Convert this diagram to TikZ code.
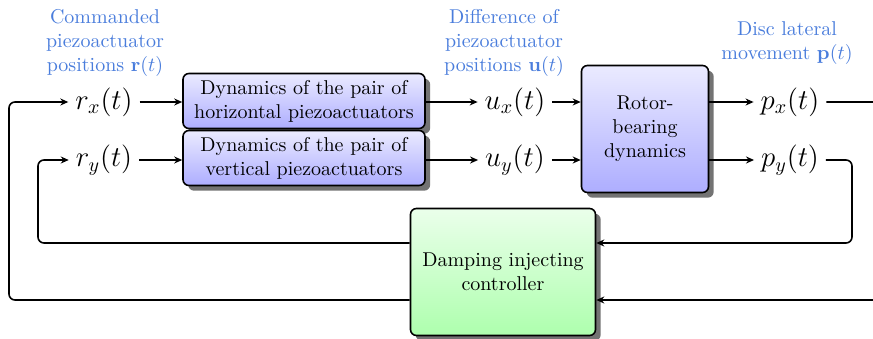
\documentclass[tikz,border=0pt]{standalone}
\usepackage{xcolor}
\usepackage{tikz}
\usepackage{amsmath,amssymb}
\usetikzlibrary{arrows.meta,positioning,calc,shadows}
\definecolor{notefg}{HTML}{4A7DDC}
\tikzset{
  block/.style={draw=black, thick, rounded corners=3pt, top color=blue!8, bottom color=blue!32,
                minimum width=121pt, minimum height=27.5pt, align=center, inner sep=2pt,
                drop shadow={shadow xshift=2.6pt, shadow yshift=-2.6pt, fill=black!55, opacity=1}},
  plant/.style={block, minimum width=63.5pt, minimum height=63.5pt},
  ctrl/.style={block, top color=green!8, bottom color=green!32,
               minimum width=92.5pt, minimum height=63.5pt},
  sig/.style={font=\Large},
  note/.style={align=center, text=notefg},
  flow/.style={-{Stealth[length=4pt,width=3.5pt]}, thick},
  wire/.style={thick, rounded corners=3pt}
}

\begin{document}
\begin{tikzpicture}[x=0.5pt,y=-0.5pt]
  \clip (0,0) rectangle (873,338);
  \node[note] (cmdlbl) at (105,43) {Commanded\\piezoactuator\\positions $\mathbf{r}(t)$};
  \node[note] (difflbl) at (504,43) {Difference of\\piezoactuator\\positions $\mathbf{u}(t)$};
  \node[note] (disclbl) at (787,43) {Disc lateral\\movement $\mathbf{p}(t)$};

  \node[sig] (rx) at (104,102) {$r_x(t)$};
  \node[sig] (ry) at (104,160) {$r_y(t)$};
  \node[block] (hact) at (304,101) {Dynamics of the pair of\\horizontal piezoactuators};
  \node[block] (vact) at (304,158) {Dynamics of the pair of\\vertical piezoactuators};
  \node[sig] (ux) at (515,102) {$u_x(t)$};
  \node[sig] (uy) at (515,160) {$u_y(t)$};
  \node[plant] (rotor) at (645,129) {Rotor-\\bearing\\dynamics};
  \node[sig] (px) at (790,102) {$p_x(t)$};
  \node[sig] (py) at (790,160) {$p_y(t)$};
  \node[ctrl] (damp) at (503,272) {Damping injecting\\controller};

  \coordinate (rnear) at (852,243);
  \coordinate (rfar) at (900,300);
  \coordinate (lnear) at (38,243);
  \coordinate (lfar) at (9,300);

  \draw[flow] (rx) -- (rx -| hact.west);
  \draw[flow] (ry) -- (ry -| vact.west);
  \draw[flow] (ux -| hact.east) -- (ux);
  \draw[flow] (uy -| vact.east) -- (uy);
  \draw[flow] (ux) -- (ux -| rotor.west);
  \draw[flow] (uy) -- (uy -| rotor.west);
  \draw[flow] (px -| rotor.east) -- (px);
  \draw[flow] (py -| rotor.east) -- (py);

  \draw[wire,flow] (py.east) -| (rnear) -- (rnear -| damp.east);
  \draw[wire,flow] (px.east) -| (rfar) -- (rfar -| damp.east);
  \draw[wire,flow] (lnear -| damp.west) -- (lnear) |- (ry.west);
  \draw[wire,flow] (lfar -| damp.west) -- (lfar) |- (rx.west);
\end{tikzpicture}
\end{document}
